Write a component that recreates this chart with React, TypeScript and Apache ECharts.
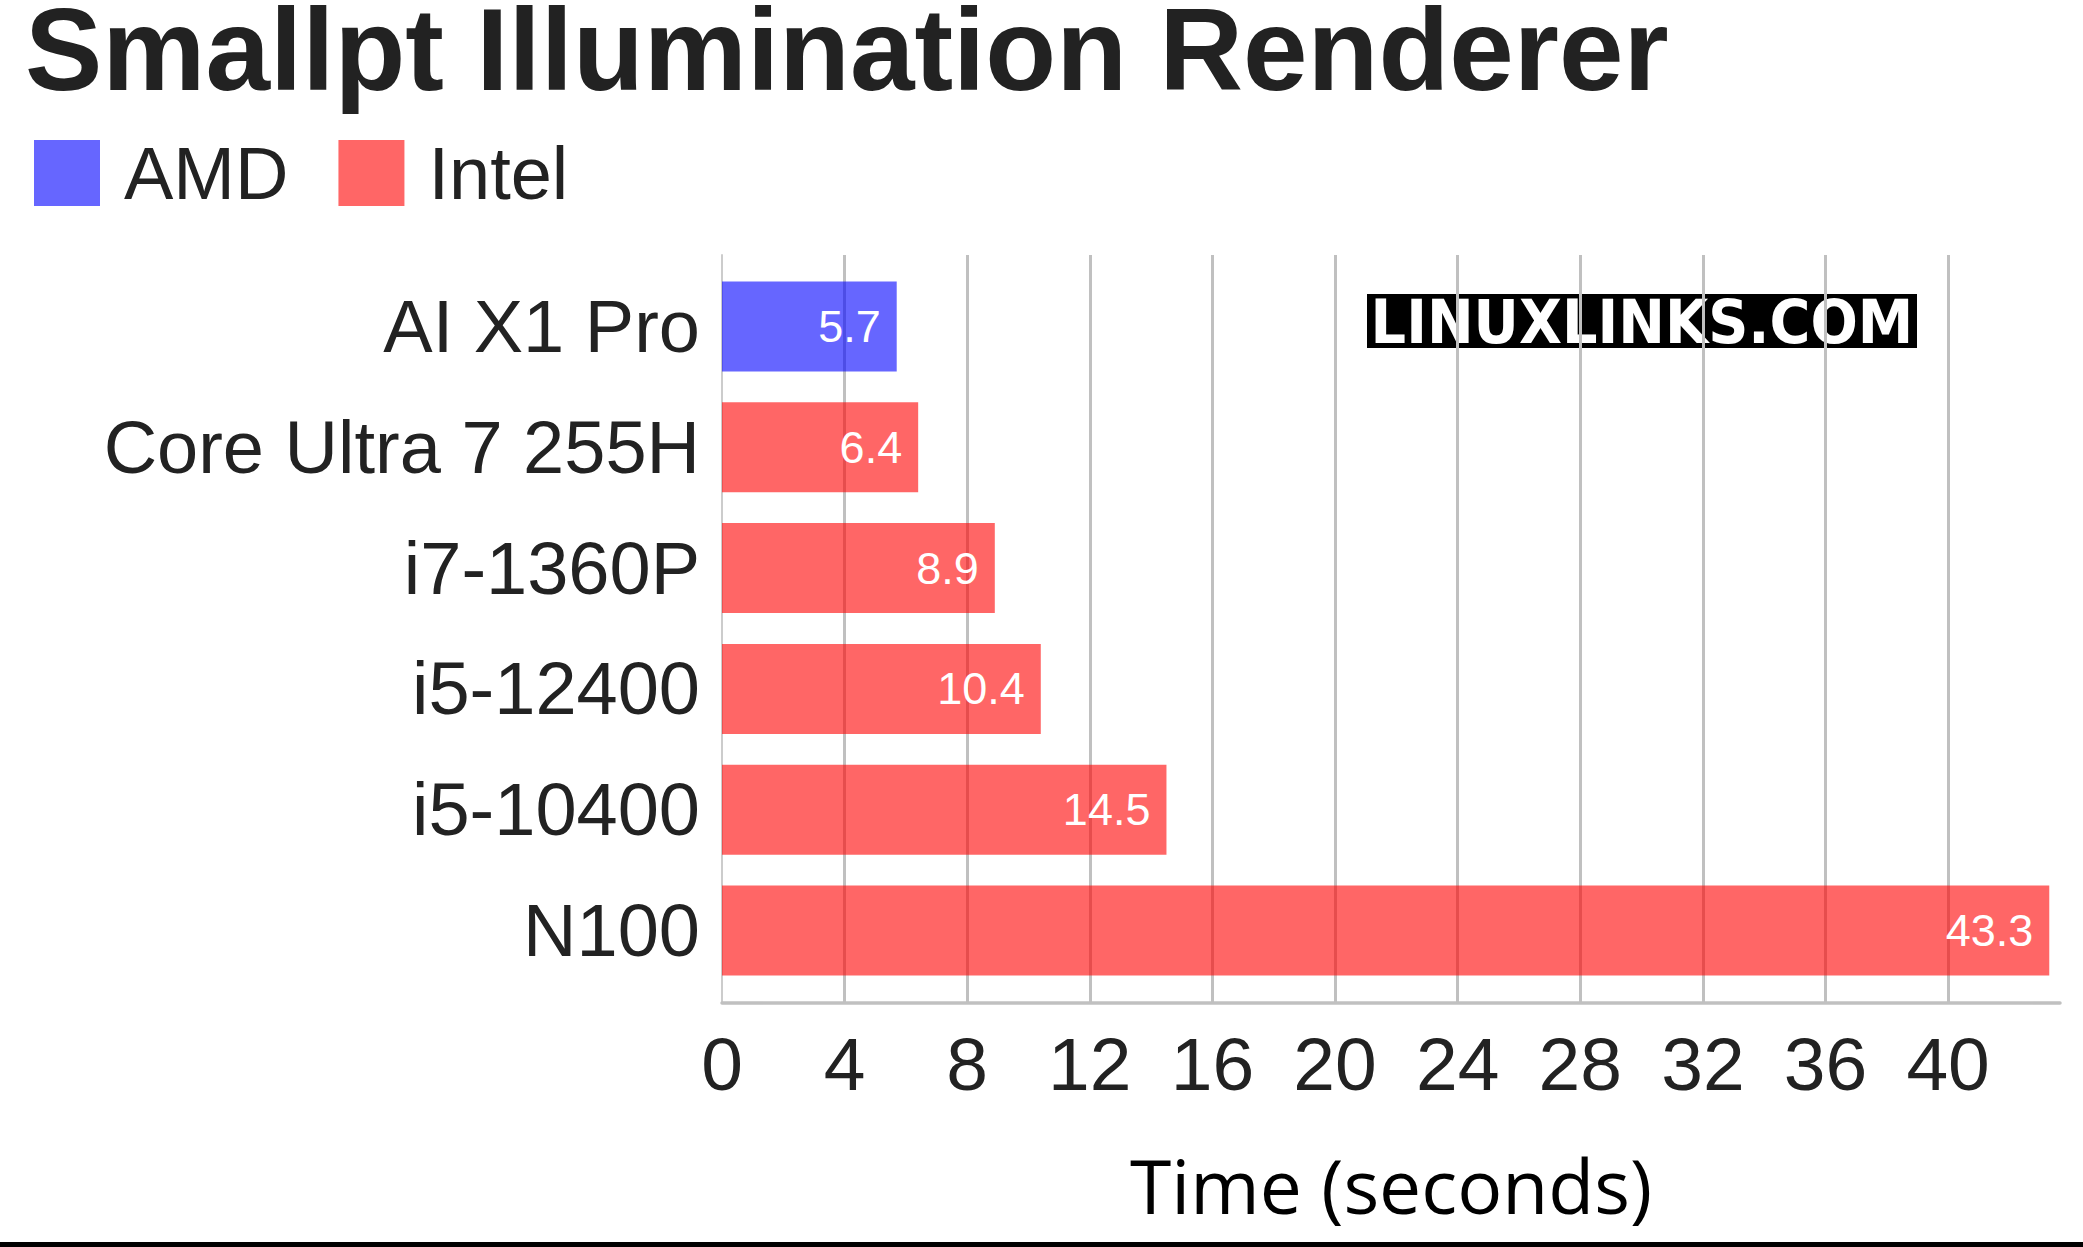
import React, { useRef, useEffect } from 'react';
import * as echarts from 'echarts';

const categories = ['AI X1 Pro', 'Core Ultra 7 255H', 'i7-1360P', 'i5-12400', 'i5-10400', 'N100'];
const times = [5.7, 6.4, 8.9, 10.4, 14.5, 43.3];
const vendors = ['AMD', 'Intel', 'Intel', 'Intel', 'Intel', 'Intel'];
const legendNames = ['AMD', 'Intel'];
const barColors = ['rgba(0, 0, 255, 0.6)', 'rgba(255, 0, 0, 0.6)'];

const sans = '"Liberation Sans", Arial, sans-serif';

const App: React.FC = () => {
  const chartRef = useRef<HTMLDivElement>(null);

  useEffect(() => {
    document.body.style.margin = '0';
    document.body.style.overflow = 'hidden';
    if (!chartRef.current) return;
    const myChart = echarts.init(chartRef.current, null, { renderer: 'svg' });

    const series = legendNames.map((name, i) => ({
      name,
      type: 'bar' as const,
      stack: 'all',
      xAxisIndex: 1,
      yAxisIndex: 1,
      barWidth: 90,
      itemStyle: { color: barColors[i] },
      label: {
        show: true,
        position: 'insideRight' as const,
        distance: 16,
        color: '#fff',
        fontSize: 45,
        fontFamily: sans
      },
      data: times.map((t, k) => (vendors[k] === name ? t : '-'))
    }));

    const option: echarts.EChartsOption = {
      animation: false,
      backgroundColor: '#fff',
      title: {
        text: 'Smallpt Illumination Renderer',
        left: 20,
        top: 0,
        textStyle: { fontSize: 116, lineHeight: 90, fontWeight: 'bold', color: '#222', fontFamily: sans }
      },
      legend: {
        data: legendNames.map((name, i) => ({
          name,
          itemStyle: { color: i === 0 ? '#6666ff' : '#ff6666' }
        })),
        left: 29,
        top: 131,
        icon: 'rect',
        itemWidth: 66,
        itemHeight: 66,
        itemGap: 50,
        selectedMode: false,
        textStyle: { fontSize: 74, color: '#222', fontFamily: sans, padding: [0, 0, 0, 19] }
      },
      grid: [
        { left: 722, right: 23, top: 255, bottom: 244 },
        { left: 722, right: 23, top: 266, bottom: 256 }
      ],
      xAxis: [
        {
          type: 'value',
          gridIndex: 0,
          min: 0,
          max: 43.65,
          interval: 4,
          axisLine: { show: true, lineStyle: { color: '#c0c0c0', width: 3.5 } },
          axisTick: { show: false },
          splitLine: { show: true, showMinLine: false, showMaxLine: false, lineStyle: { color: '#c0c0c0', width: 3 } },
          axisLabel: { fontSize: 75, color: '#222', margin: 23, fontFamily: sans, showMaxLabel: false },
          name: 'Time (seconds)',
          nameLocation: 'middle',
          nameGap: 144,
          nameTextStyle: { fontSize: 75, color: '#000', fontFamily: '"Open Sans", sans-serif' }
        },
        {
          type: 'value',
          gridIndex: 1,
          min: 0,
          max: 43.65,
          show: false
        }
      ],
      yAxis: [
        {
          type: 'value',
          gridIndex: 0,
          axisLine: { show: true, lineStyle: { color: '#cccccc', width: 2 } },
          axisTick: { show: false },
          axisLabel: { show: false },
          splitLine: { show: false }
        },
        {
          type: 'category',
          gridIndex: 1,
          data: categories,
          inverse: true,
          axisLine: { show: false },
          axisTick: { show: false },
          axisLabel: { fontSize: 74, color: '#222', margin: 22, fontFamily: sans }
        }
      ],
      graphic: [
        {
          type: 'group',
          x: 1367,
          y: 294,
          children: [
            { type: 'rect', shape: { x: 0, y: 0, width: 550, height: 54 }, style: { fill: '#000' } },
            {
              type: 'text',
              x: 275,
              y: 28,
              scaleX: 0.93,
              style: {
                text: 'LINUXLINKS.COM',
                fill: '#fff',
                font: 'bold 60px "DejaVu Sans", sans-serif',
                align: 'center',
                verticalAlign: 'middle'
              }
            }
          ]
        },
        {
          type: 'rect',
          x: 0,
          y: 1242,
          shape: { x: 0, y: 0, width: 2083, height: 5 },
          style: { fill: '#000' }
        }
      ],
      series
    };

    myChart.setOption(option);

    const handleResize = () => {
      myChart.resize();
    };
    window.addEventListener('resize', handleResize);

    return () => {
      window.removeEventListener('resize', handleResize);
      myChart.dispose();
    };
  }, []);

  return <div ref={chartRef} style={{ width: '2083px', height: '1247px' }} />;
};

export default App;
